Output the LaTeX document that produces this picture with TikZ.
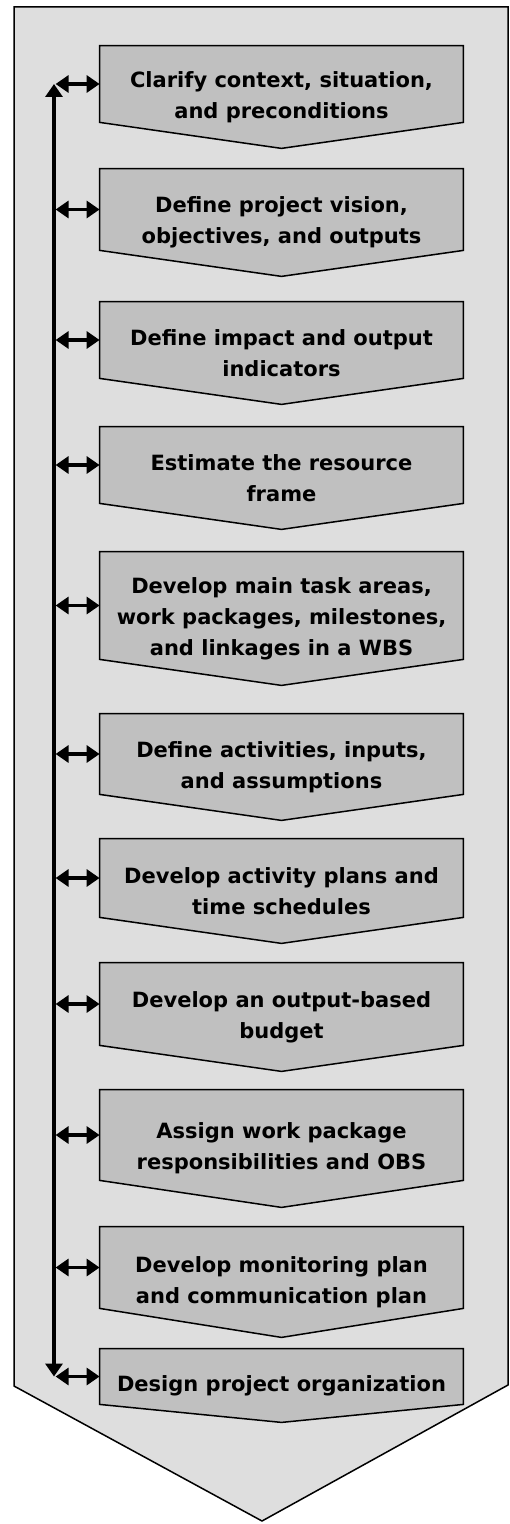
\documentclass[tikz,border=0pt]{standalone}
\usepackage{fontspec}
\setmainfont{DejaVu Sans}
\usetikzlibrary{calc,arrows.meta,backgrounds}
\definecolor{panelgray}{RGB}{222,222,222}
\definecolor{boxgray}{RGB}{192,192,192}
\tikzset{
  stepbox/.style={inner sep=0pt,minimum width=181.5pt,align=center,
    font=\fontsize{10.5}{15.5}\selectfont\bfseries},
  stepshape/.style={draw,fill=boxgray,line width=0.75pt,line join=miter},
  twoway/.style={{Triangle[length=6.5pt,width=8.5pt]}-{Triangle[length=6.5pt,width=8.5pt]},line width=1.6pt}
}
\begin{document}
\begin{tikzpicture}[x=0.5pt,y=-0.5pt]
	\useasboundingbox (0,0) rectangle (509,1524);
	%panel
	\begin{pgfonlayer}{background}
	\draw[fill=panelgray,line width=0.75pt] (14,7) -- (508,7) -- (508,1385) -- (262,1521) -- (14,1386) -- cycle;
	\end{pgfonlayer}
	%steps: number/top/side bottom/tip depth/text
	\foreach \i/\t/\b/\d/\txt in {
	  1/46/122/26/{Clarify context, situation,\\and preconditions},
	  2/169/250/26/{Define project vision,\\objectives, and outputs},
	  3/302/378/26/{Define impact and output\\indicators},
	  4/427/503/26/{Estimate the resource\\frame},
	  5/552/659/26/{Develop main task areas,\\work packages, milestones,\\and linkages in a WBS},
	  6/714/794/26/{Define activities, inputs,\\and assumptions},
	  7/839/917/26/{Develop activity plans and\\time schedules},
	  8/963/1045/26/{Develop an output-based\\budget},
	  9/1090/1180/27/{Assign work package\\responsibilities and OBS},
	  10/1227/1308/29/{Develop monitoring plan\\and communication plan},
	  11/1349/1404/18/{Design project organization}}{
	  \node[stepbox,minimum height={(\b+\d-\t)*0.5pt}] (b\i) at (281.5,{(\t+\b+\d)/2}) {\txt};
	  \begin{pgfonlayer}{background}
	  \draw[stepshape] (b\i.north west) -- (b\i.north east) -- ($(b\i.south east)+(0,-\d)$) -- (b\i.south) -- ($(b\i.south west)+(0,-\d)$) -- cycle;
	  \end{pgfonlayer}
	  \coordinate (a\i) at ($(b\i.north west)!.5!(b\i.south west)+(0,-\d/2)$);
	  \coordinate (l\i) at (54,0 |- a\i);
	  \draw[twoway] ([xshift=0.8pt]l\i) -- (a\i);
	}
	%feedback line
	\draw[twoway] (l1) -- (l11);
\end{tikzpicture}
\end{document}
